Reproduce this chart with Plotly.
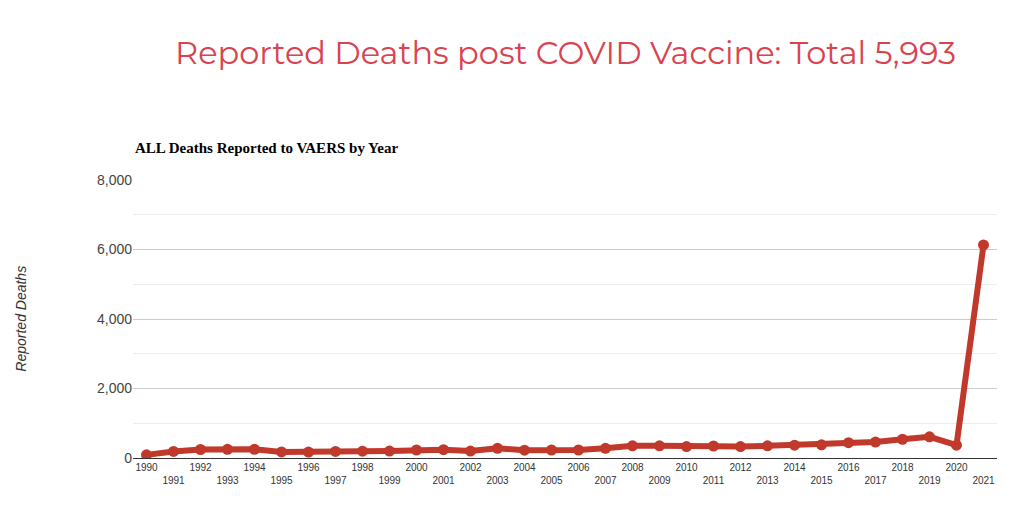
import plotly.graph_objects as go

years = list(range(1990, 2022))
deaths = [90, 190, 245, 250, 250, 175, 170, 190, 195, 200, 230, 240, 200, 280, 225, 230,
          230, 280, 350, 350, 330, 345, 330, 350, 370, 380, 440, 460, 540, 610, 370, 6130]
tick_text = [str(y) if y % 2 == 0 else "<br>" + str(y) for y in years]
y_ticks = [0, 2000, 4000, 6000, 8000]

fig = go.Figure()
fig.add_trace(go.Scatter(
    x=years, y=deaths, mode="lines+markers",
    line=dict(color="#c0392b", width=6),
    marker=dict(color="#c0392b", size=11),
    showlegend=False,
))

fig.update_layout(
    width=1024, height=513,
    margin=dict(l=125, r=35, t=172, b=63),
    paper_bgcolor="white", plot_bgcolor="white",
    font=dict(family="Arial, Liberation Sans", color="#444"),
    xaxis=dict(range=[1989.5, 2021.5], tickvals=years, ticktext=tick_text,
               tickfont=dict(size=10, color="#333"), showgrid=False, zeroline=False,
               showline=True, linecolor="#333", linewidth=1),
    yaxis=dict(range=[0, 8000], tickvals=y_ticks, ticktext=[f"{v:,}" for v in y_ticks],
               tickfont=dict(size=14, color="#444"), gridcolor="#cccccc", zeroline=False,
               minor=dict(dtick=1000, showgrid=True, gridcolor="#ececec")),
)
# main title
fig.add_annotation(text="Reported Deaths post COVID Vaccine: Total 5,993",
                   x=0.5, xref="paper", xanchor="center", y=1.457, yref="paper", yanchor="middle",
                   showarrow=False,
                   font=dict(family="Montserrat, Lato, Noto Sans", size=32, color="#d94350"))
fig.add_annotation(text="<b>ALL Deaths Reported to VAERS by Year</b>",
                   x=0, xref="paper", xanchor="left", y=1, yref="paper", yanchor="bottom",
                   yshift=22, showarrow=False,
                   font=dict(family="Liberation Serif, Times New Roman", size=15, color="black"))
fig.add_annotation(text="<i>Reported Deaths</i>", textangle=-90,
                   x=-0.13, xref="paper", xanchor="center", y=0.5, yref="paper",
                   showarrow=False, font=dict(size=14, color="#333"))

fig.write_html("out.html")
